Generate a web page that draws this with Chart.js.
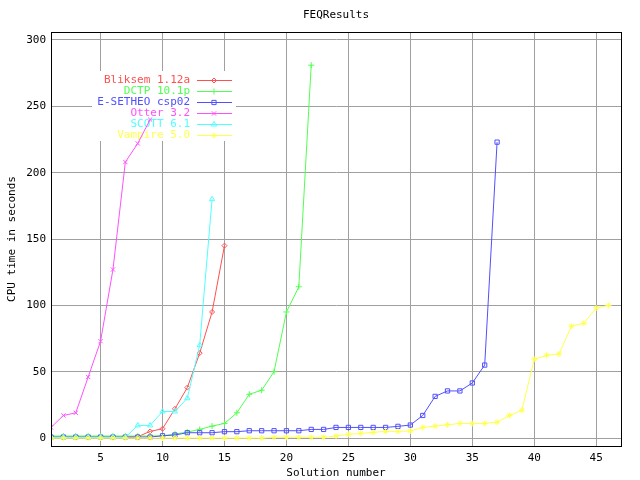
<!DOCTYPE html>
<html>
<head>
<meta charset="utf-8">
<script src="https://cdn.jsdelivr.net/npm/chart.js@4"></script>
<style>
  html, body { margin: 0; padding: 0; background: #fff; }
  #chart { display: block; }
</style>
</head>
<body>
<canvas id="chart" width="640" height="480"></canvas>
<script>
// CPU times (seconds) per solved problem, sorted
const seriesNames = ['Bliksem 1.12a', 'DCTP 10.1p', 'E-SETHEO csp02', 'Otter 3.2', 'SCOTT 6.1', 'Vampire 5.0'];
const bliksem = [0.5, 0.5, 0.5, 0.5, 0.5, 0.5, 0.5, 1, 5, 7, 22, 38, 64, 95, 145];
const dctp = [1.5, 1.5, 1.5, 1.5, 1.5, 1.5, 1.5, 1.5, 1.5, 1.7, 3, 4.5, 6.5, 9, 11, 19, 33, 36, 50, 95, 114, 281];
const esetheo = [0.75, 0.75, 0.75, 0.75, 0.75, 0.75, 0.75, 0.75, 0.75, 1.7, 2.3, 4, 4, 4, 4.8, 4.8, 5.5, 5.5, 5.5,
  5.5, 5.5, 6.5, 6.5, 8, 8, 8, 8, 8, 8.8, 9.8, 17, 31.4, 35.5, 35.5, 41.5, 55, 223];
const otter = [8, 17, 19, 46, 73, 127, 208, 222, 240];
const scott = [0.5, 0.5, 0.5, 0.5, 0.5, 0.5, 0.5, 9.5, 9.5, 20, 20, 30, 70, 180];
const vampire = [0, 0, 0, 0, 0, 0, 0, 0, 0, 0, 0, 0, 0, 0, 0, 0, 0, 0, 0.5, 0.5, 0.5, 0.5, 0.5, 1.5, 2.8, 3.5,
  4.3, 5, 5, 5.3, 8, 9, 10, 11, 11, 11, 12, 17, 21, 59.4, 62.4, 63.4, 84.3, 86.5, 98, 100];
const xTicks = [5, 10, 15, 20, 25, 30, 35, 40, 45];
const yTicks = [0, 50, 100, 150, 200, 250, 300];

const colors = ['#ff5050', '#50ff50', '#5050ff', '#ff50ff', '#50ffff', '#ffff50'];
const markers = ['rectRot', 'cross', 'rect', 'crossRot', 'triangle', 'star'];
const allSeries = [bliksem, dctp, esetheo, otter, scott, vampire];

const FONT = '11px "DejaVu Sans Mono", monospace';

const datasets = allSeries.map((vals, i) => ({
  label: seriesNames[i],
  data: vals.map((v, k) => ({ x: k + 1, y: v })),
  borderColor: colors[i],
  backgroundColor: i === 5 ? colors[i] : 'rgba(0,0,0,0)',
  pointBorderColor: colors[i],
  pointStyle: markers[i],
  pointRadius: markers[i] === 'rectRot' ? 2.5 : 3,
  pointBorderWidth: 1,
  borderWidth: 1,
  tension: 0,
  order: 5 - i
}));

// gnuplot-like key, title, axis labels and frame
const gnuplotDecor = {
  id: 'gnuplotDecor',
  beforeDatasetsDraw(chart) {
    const ctx = chart.ctx;
    ctx.save();
    ctx.fillStyle = '#fff';
    ctx.fillRect(92, 71, 144, 70);
    ctx.font = FONT;
    ctx.textBaseline = 'middle';
    ctx.textAlign = 'right';
    chart.data.datasets.forEach((ds, i) => {
      const y = 80 + i * 11;
      ctx.fillStyle = colors[i];
      ctx.fillText(ds.label, 190, y);
      ctx.strokeStyle = colors[i];
      ctx.lineWidth = 1;
      ctx.beginPath();
      ctx.moveTo(197, y + 0.5);
      ctx.lineTo(232, y + 0.5);
      ctx.stroke();
      // hollow markers except the filled star
      ctx.fillStyle = markers[i] === 'star' ? colors[i] : 'rgba(0,0,0,0)';
      Chart.helpers.drawPoint(ctx, {
        pointStyle: markers[i],
        radius: markers[i] === 'rectRot' ? 2.5 : 3,
        borderWidth: 1
      }, 214, y + 0.5);
    });
    ctx.restore();
  },
  afterDraw(chart) {
    const ctx = chart.ctx;
    const a = chart.chartArea;
    ctx.save();
    ctx.strokeStyle = '#000';
    ctx.lineWidth = 1;
    ctx.strokeRect(Math.round(a.left) + 0.5, Math.round(a.top) + 0.5,
      Math.round(a.right - a.left), Math.round(a.bottom - a.top));
    ctx.fillStyle = '#000';
    ctx.font = FONT;
    ctx.textAlign = 'center';
    ctx.textBaseline = 'middle';
    ctx.fillText('FEQResults', (a.left + a.right) / 2, 15);
    ctx.fillText('Solution number', (a.left + a.right) / 2, 473);
    ctx.translate(12, (a.top + a.bottom) / 2);
    ctx.rotate(-Math.PI / 2);
    ctx.fillText('CPU time in seconds', 0, 0);
    ctx.restore();
  }
};

const ctx = document.getElementById('chart').getContext('2d');
new Chart(ctx, {
  type: 'line',
  data: { datasets: datasets },
  options: {
    responsive: false,
    animation: false,
    layout: { padding: { top: 32, right: 19, left: 0, bottom: 0 } },
    plugins: {
      legend: { display: false },
      title: { display: false },
      tooltip: { enabled: false }
    },
    scales: {
      x: {
        type: 'linear',
        min: 1,
        max: 47,
        afterBuildTicks: s => { s.ticks = xTicks.map(v => ({ value: v })); },
        afterFit: s => { s.height = 34; },
        grid: { color: '#a0a0a0', lineWidth: 1, drawTicks: false },
        border: { color: '#000', width: 1 },
        ticks: { color: '#000', font: { family: '"DejaVu Sans Mono", monospace', size: 11 }, padding: 6, maxRotation: 0 }
      },
      y: {
        type: 'linear',
        min: -6,
        max: 306,
        afterBuildTicks: s => { s.ticks = yTicks.map(v => ({ value: v })); },
        afterFit: s => { s.width = 51; },
        grid: { color: '#a0a0a0', lineWidth: 1, drawTicks: false },
        border: { color: '#000', width: 1 },
        ticks: { color: '#000', font: { family: '"DejaVu Sans Mono", monospace', size: 11 }, padding: 5 }
      }
    }
  },
  plugins: [gnuplotDecor]
});
</script>
</body>
</html>
